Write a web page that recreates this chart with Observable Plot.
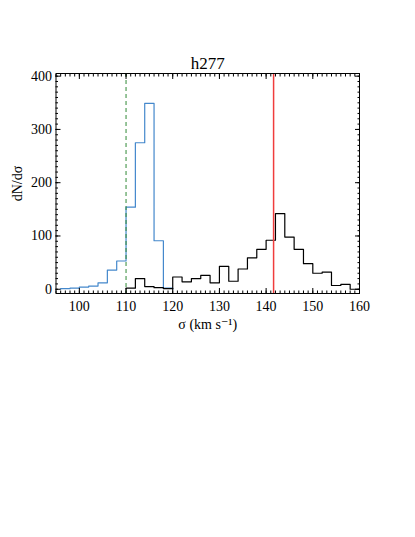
<!DOCTYPE html>
<html>
<head>
<meta charset="utf-8">
<script src="https://cdn.jsdelivr.net/npm/d3@7"></script>
<script src="https://cdn.jsdelivr.net/npm/@observablehq/plot@0.6"></script>
<style>
  html, body { margin: 0; padding: 0; background: #fff; }
  #chart svg, #chart svg text { font-family: "Liberation Serif", "DejaVu Serif", serif !important; }
</style>
</head>
<body>
<div id="chart"></div>
<script>
// ---- data ----
const title = "h277";
const binWidth = 2;
const blueStart = 96;
const blueCounts = [1, 2, 4, 6, 12, 36, 53, 154, 275, 349, 91, 2];
const blackStart = 110;
const blackCounts = [2, 20, 5, 3, 1, 23, 14, 20, 26, 12, 43, 15, 38, 59, 75, 92, 142, 98, 75, 48, 30, 32, 7, 9, 0];
const dashedX = [110];
const redX = [141.6];
const xMajor = [100, 110, 120, 130, 140, 150, 160];
const yMajor = [0, 100, 200, 300, 400];
const xMinor = d3.range(95, 161, 1);
const yMinor = d3.range(0, 401, 10);

function steps(start, counts) {
  const pts = [{x: start, y: 0}];
  counts.forEach((c, i) => pts.push({x: start + i * binWidth, y: c}));
  pts.push({x: start + counts.length * binWidth, y: 0});
  return pts;
}
const blue = steps(blueStart, blueCounts);
const black = steps(blackStart, blackCounts);

const tickMarks = (axisFn, anchor, ticks, size) =>
  axisFn({anchor, ticks, tickSize: -size, text: null, label: null, stroke: "#000"});

const chart = Plot.plot({
  width: 415,
  height: 537,
  marginLeft: 55.5,
  marginRight: 56,
  marginTop: 73,
  marginBottom: 244,
  style: {fontFamily: "'Liberation Serif', 'DejaVu Serif', serif", fontSize: "14px", background: "#fff", color: "#000"},
  x: {domain: [95, 160]},
  y: {domain: [-8, 405]},
  marks: [
    Plot.line(blue, {x: "x", y: "y", curve: "step-after", stroke: "#4488cc", strokeWidth: 1.2}),
    Plot.line(black, {x: "x", y: "y", curve: "step-after", stroke: "#000", strokeWidth: 1.2}),
    Plot.ruleX(dashedX, {stroke: "#2f8a36", strokeDasharray: "4,3", strokeWidth: 1}),
    Plot.ruleX(redX, {stroke: "#f03c3c", strokeWidth: 1.5}),
    Plot.frame({stroke: "#000", strokeWidth: 1}),
    tickMarks(Plot.axisX, "bottom", xMajor, 5),
    tickMarks(Plot.axisX, "bottom", xMinor, 2.5),
    tickMarks(Plot.axisX, "top", xMajor, 5),
    tickMarks(Plot.axisX, "top", xMinor, 2.5),
    tickMarks(Plot.axisY, "left", yMajor, 5),
    tickMarks(Plot.axisY, "left", yMinor, 2.5),
    tickMarks(Plot.axisY, "right", yMajor, 5),
    tickMarks(Plot.axisY, "right", yMinor, 2.5),
    Plot.axisX({anchor: "bottom", ticks: xMajor, tickSize: 0, tickPadding: 8, tickFormat: d3.format("d"),
      label: "σ (km s⁻¹)", labelAnchor: "center", labelArrow: "none", labelOffset: 35, fontSize: 14}),
    Plot.axisY({anchor: "left", ticks: yMajor, tickSize: 0, tickPadding: 4, tickFormat: d3.format("d"),
      label: "dN/dσ", labelAnchor: "center", labelArrow: "none", labelOffset: 44, fontSize: 14}),
    Plot.text([title], {frameAnchor: "top", dy: -17, text: d => d, fontSize: 17, fill: "#000"})
  ]
});
document.getElementById("chart").appendChild(chart);
</script>
</body>
</html>
